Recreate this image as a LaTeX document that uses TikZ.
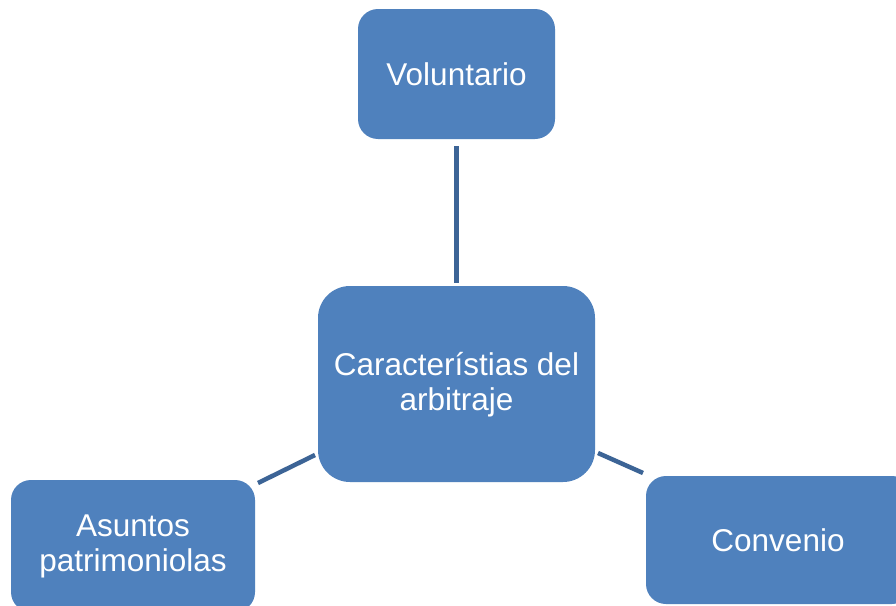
\documentclass[tikz,border=0pt]{standalone}
\usepackage{fontspec}
\setmainfont{Liberation Sans}
\definecolor{boxblue}{HTML}{4F81BD}
\definecolor{linkblue}{HTML}{3C6496}
\begin{document}
\begin{tikzpicture}[x=1pt,y=-1pt,
  box/.style={draw=none,fill=boxblue,rounded corners=#1},
  lbl/.style={text=white,font=\fontsize{31.5}{35}\selectfont,align=center,inner sep=0pt},
  link/.style={draw=linkblue,line width=4.5pt}]
\useasboundingbox (0,0) rectangle (896,605);
\fill[white] (0,0) rectangle (896,605);
\path[box=20pt] (358,9) rectangle (555,139);
\node[lbl] (vol) at (456.5,74) {Voluntario};
\path[box=32pt] (318,286) rectangle (595,482);
\node[lbl] (car) at (456.5,385) {Caracter\'istias del\\arbitraje};
\path[box=20pt] (11,480) rectangle (255,612);
\node[lbl] (asu) at (133,546) {Asuntos\\patrimoniolas};
\path[box=20pt] (646,476) rectangle (912,604);
\node[lbl] (con) at (778,540) {Convenio};
\coordinate (v1) at (456.5,146);
\coordinate (v2) at (456.5,283);
\coordinate (l1) at (258,483);
\coordinate (l2) at (315,455);
\coordinate (r1) at (598,453);
\coordinate (r2) at (643,473);
\draw[link] (v1) -- (v2);
\draw[link] (l1) -- (l2);
\draw[link] (r1) -- (r2);
\end{tikzpicture}
\end{document}
